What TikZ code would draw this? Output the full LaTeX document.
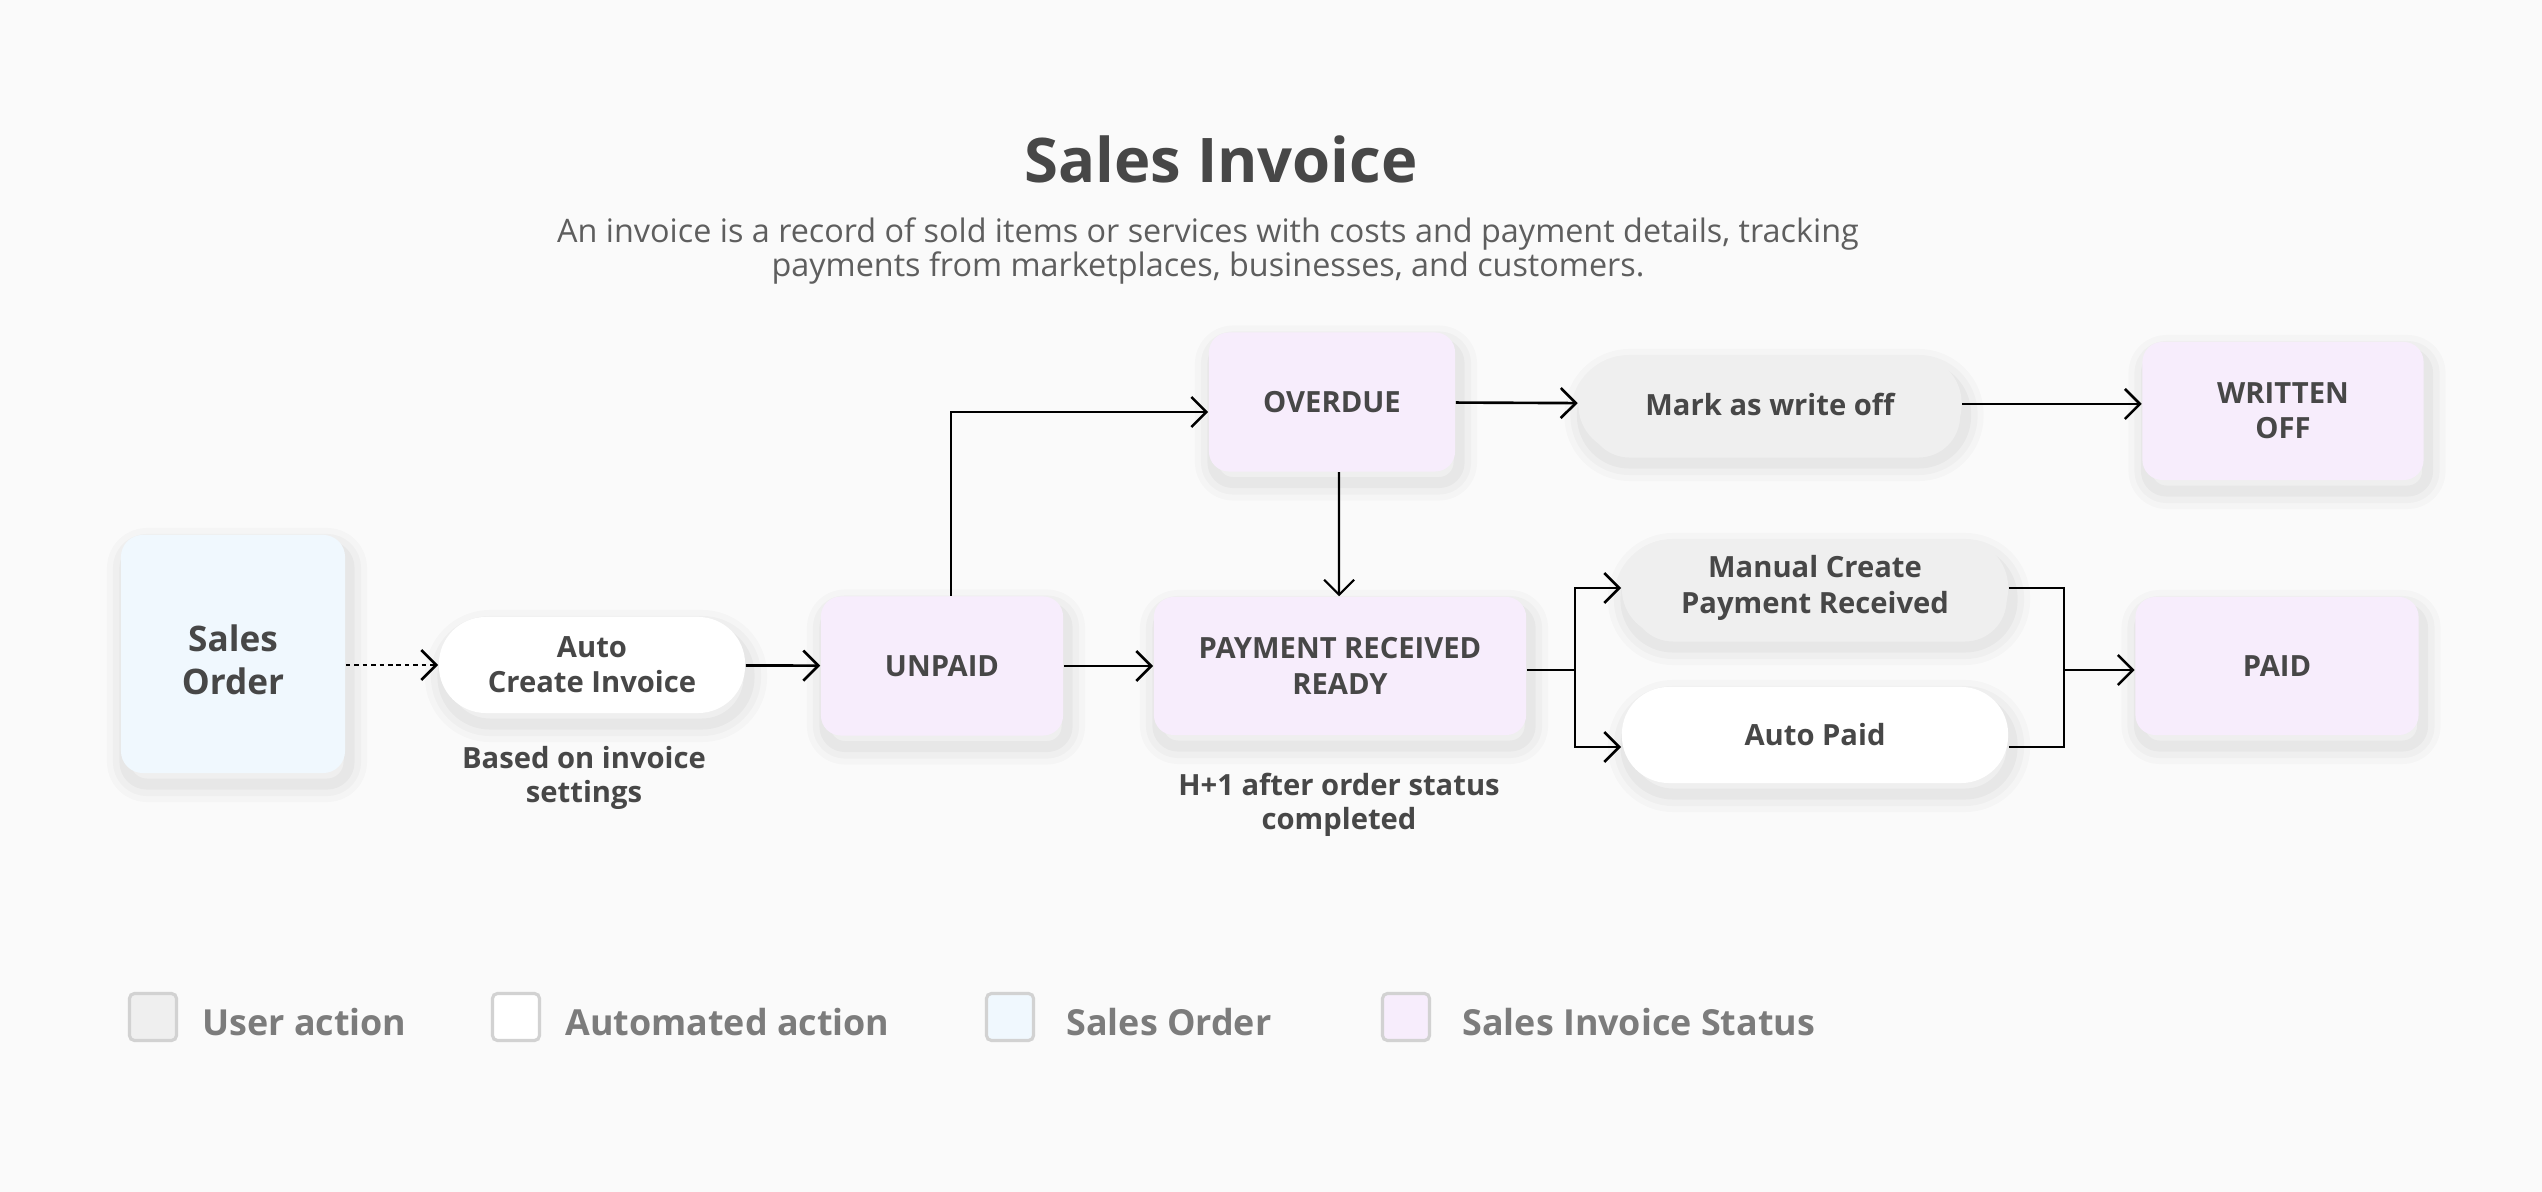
\documentclass[tikz,border=0pt]{standalone}
\usepackage{fontspec}
\setmainfont{Open Sans}
\usetikzlibrary{arrows.meta}
\definecolor{bg}{HTML}{FAFAFA}
\definecolor{ink}{HTML}{474747}
\definecolor{subink}{HTML}{5E5E5E}
\definecolor{statusfill}{HTML}{F7EDFC}
\definecolor{orderfill}{HTML}{F0F8FE}
\definecolor{userfill}{HTML}{EFEFEF}
\definecolor{legendink}{HTML}{7C7C7C}
\definecolor{legendline}{HTML}{D2D2D2}
\begin{document}
\begin{tikzpicture}[x=0.01cm,y=-0.01cm,
	softshadow/.style={
		preaction={draw=black,line width=0.36cm,opacity=0.018,line join=round,
			transform canvas={xshift=0.04cm,yshift=-0.11cm}},
		preaction={draw=black,line width=0.24cm,opacity=0.025,line join=round,
			transform canvas={xshift=0.04cm,yshift=-0.11cm}},
		preaction={draw=black,line width=0.11cm,opacity=0.03,line join=round,
			transform canvas={xshift=0.04cm,yshift=-0.11cm}}},
	box/.style={align=center,text=ink,inner sep=0pt,font=\fontsize{8.3}{10}\selectfont\bfseries,softshadow},
	status/.style={box,fill=statusfill,rounded corners=0.2cm},
	action/.style={box,rounded corners=0.47cm,minimum width=3.86cm,minimum height=0.96cm},
	note/.style={align=center,text=ink,font=\fontsize{8.3}{9.8}\selectfont\bfseries},
	arr/.style={-{Straight Barb[length=1.5mm,width=3mm]},line width=0.75pt},
	key/.style={draw=legendline,line width=0.9pt,rounded corners=0.05cm,minimum size=0.47cm,inner sep=0pt},
	keytext/.style={anchor=west,text=legendink,font=\fontsize{10.2}{12}\selectfont\bfseries}]
	\fill[bg](0,0)rectangle(2542,1192);
	\useasboundingbox(0,0)rectangle(2542,1192);
	\node[text=ink,font=\fontsize{17.5}{20}\selectfont\bfseries](title)at(1221,159){Sales Invoice};
	\node[align=center,text=subink,font=\fontsize{9.2}{9.7}\selectfont](sub)at(1208,251)
		{An invoice is a record of sold items or services with costs and payment details, tracking\\
		payments from marketplaces, businesses, and customers.};
	\node[box,fill=orderfill,rounded corners=0.22cm,minimum width=2.24cm,minimum height=2.38cm,
		font=\fontsize{10}{12.3}\selectfont\bfseries](so)at(233,654)
		{\raisebox{-0.1cm}[\height][\depth]{\begin{tabular}{@{}c@{}}Sales\\Order\end{tabular}}};
	\node[action,fill=white,minimum width=3.06cm](auto)at(592,665){Auto\\Create Invoice};
	\node[status,minimum width=2.42cm,minimum height=1.39cm](unpaid)at(942,666){UNPAID};
	\node[status,minimum width=2.46cm,minimum height=1.39cm](overdue)at(1332,402){OVERDUE};
	\node[action,fill=userfill,minimum width=3.83cm](mark)at(1770,404){Mark as write off};
	\node[status,minimum width=2.81cm,minimum height=1.38cm](woff)at(2283,411){WRITTEN\\OFF};
	\node[status,minimum width=3.72cm,minimum height=1.38cm](prr)at(1340,666){PAYMENT RECEIVED\\READY};
	\node[action,fill=userfill](manual)at(1815,588){Manual Create\\Payment Received};
	\node[action,fill=white](autopaid)at(1815,735){Auto Paid};
	\node[status,minimum width=2.83cm,minimum height=1.38cm](paid)at(2277,666){PAID};
	\node[note](basedon)at(584,778){Based on invoice\\settings};
	\node[note](hplus)at(1339,805){H+1 after order status\\completed};
	\coordinate(split)at(1575,670);
	\coordinate(merge)at(2064,670);
	\draw[arr,dash pattern=on 1.3pt off 1.1pt](so.east|-auto)--(auto.west);
	\draw[arr](auto)--(unpaid);
	\draw[arr](unpaid)--(prr.west|-unpaid);
	\draw[arr]([xshift=0.09cm]unpaid.north)|-([yshift=-0.1cm]overdue.west);
	\draw[arr](overdue)--(mark);
	\draw[arr](mark)--(woff.west|-mark);
	\draw[arr,line width=0.6pt]([xshift=0.07cm]overdue.south)--([xshift=-0.01cm]prr.north);
	\draw[line width=0.75pt](prr.east|-split)--(split);
	\draw[arr](split)|-(manual.west);
	\draw[arr](split)|-([yshift=-0.12cm]autopaid.west);
	\draw[line width=0.75pt](manual.east)-|(merge);
	\draw[line width=0.75pt]([yshift=-0.12cm]autopaid.east)-|(merge);
	\draw[arr](merge)--(paid.west|-merge);
	\node[key,fill=userfill](k1)at(153,1017){};
	\node[keytext](t1)at(190,1022){User action};
	\node[key,fill=white](k2)at(516,1017){};
	\node[keytext](t2)at(553,1022){Automated action};
	\node[key,fill=orderfill](k3)at(1010,1017){};
	\node[keytext](t3)at(1054,1022){Sales Order};
	\node[key,fill=statusfill](k4)at(1406,1017){};
	\node[keytext](t4)at(1450,1022){Sales Invoice Status};
\end{tikzpicture}
\end{document}
